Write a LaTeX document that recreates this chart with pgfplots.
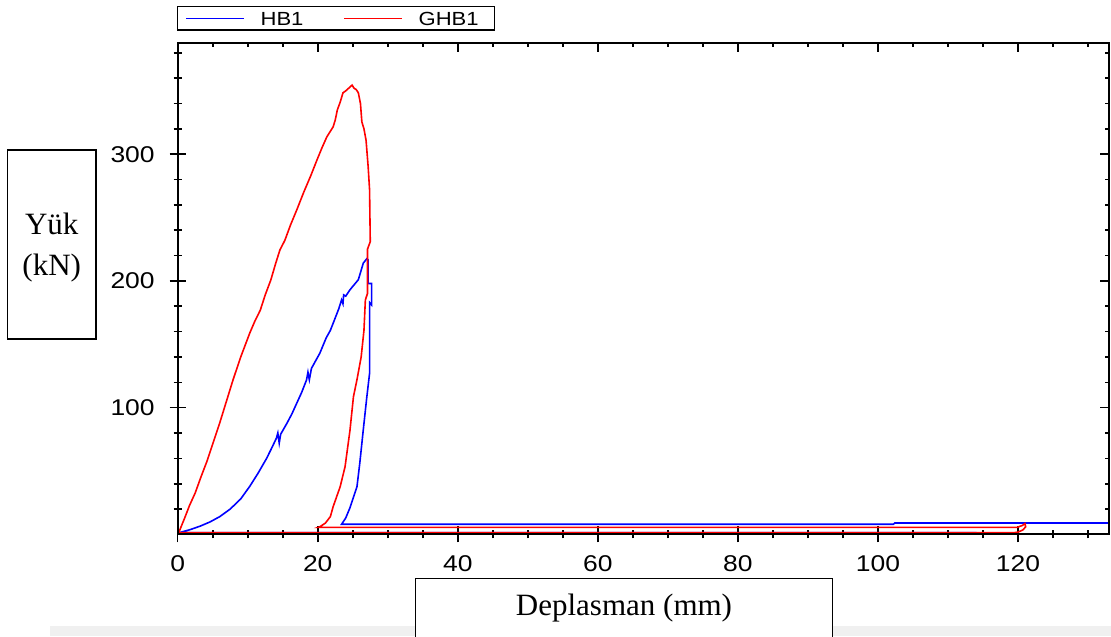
\documentclass[border=0pt]{standalone}
\usepackage{fontspec}
\setmainfont{Liberation Serif}
\newfontfamily\ticksfont[FakeStretch=1.16]{Liberation Sans}
\usepackage{pgfplots}
\pgfplotsset{compat=1.18}
\begin{document}
\begin{tikzpicture}
\fill[black!6] (-63.85pt,-50.8pt) rectangle (466.65pt,-45.8pt);
\begin{axis}[at={(0,0)}, anchor=south west, scale only axis,
  width=465.65pt, height=245.85pt,
  xmin=0, xmax=133, ymin=0, ymax=388,
  axis line style={line width=0.9pt},
  xtick={0,20,...,120}, ytick={100,200,300},
  minor xtick={5,10,...,130}, minor ytick={20,40,...,380},
  xtick pos=left, ytick pos=left, tick align=center,
  major tick length=8pt, minor tick length=4pt,
  tick style={black, line width=0.8pt},
  ticklabel style={font=\ticksfont\fontsize{11.4}{13}\selectfont},
  xticklabel style={yshift=-3pt},
  yticklabel style={xshift=-4pt},
  /pgf/number format/assume math mode=true,
  legend columns=2,
  legend style={name=leg, at={(rel axis cs:0,1)}, anchor=south west, xshift=-0.2pt, yshift=6.35pt,
    draw=none, inner xsep=3.85pt, inner ysep=2.2pt,
    font=\ticksfont\fontsize{9.5}{10}\selectfont,
    nodes={inner sep=0pt, text height=6.8pt, text depth=0pt},
    /tikz/every odd column/.append style={column sep=8pt},
    /tikz/every even column/.append style={column sep=20pt}},
]
\addplot[blue, line width=0.8pt, forget plot] coordinates {
(114.1,1.4) (0,1.4) (0,0) (0.3,1.5) (1.8,3.8) (3.2,6.5) (4.6,9.8) (6.0,14) (7.5,20) (9.0,28) (10.3,38) (11.5,48.5) (12.7,60) (13.5,69) (14.1,76) (14.3,80) (14.5,72) (14.7,79) (15.6,87.7) (16.3,95) (17.0,103.5) (17.7,112) (18.4,121.9) (18.6,128) (18.8,122) (19.1,131) (19.7,137) (20.3,143) (21.2,155) (21.8,161) (22.2,166.6) (23.0,178) (23.4,185) (23.6,182) (23.7,189) (24.0,188) (24.6,193) (25.2,197) (25.8,201) (26.5,214) (27.0,217.5) (27.2,216.6) (27.2,198) (27.7,198) (27.7,181) (27.4,183) (27.4,161) (27.4,127) (27.0,108) (26.5,82.4) (26.0,56) (25.6,37.6) (24.6,21) (24.0,13) (23.4,8) (102.2,8) (102.4,9) (140,9)
};
\addplot[red, line width=0.8pt, forget plot] coordinates {
(0,0) (0.3,3.5) (1.0,13) (1.7,23) (2.5,32.7) (3.3,45) (4.2,58) (5.1,73) (6.0,87.9) (6.9,104) (7.9,121.9) (9.0,140) (10.3,159) (11.0,168) (11.8,177) (12.5,189) (13.3,200.8) (14.0,214) (14.6,224.5) (15.3,232) (16.1,244) (17.0,256) (18.0,270) (19.0,283) (19.9,295.6) (20.6,305) (21.3,313.7) (22.2,321.6) (22.5,327) (22.8,335) (23.2,341) (23.6,348.4) (24.0,350) (24.4,352) (24.9,354.5) (25.2,352) (25.5,351) (25.8,348.4) (26.1,340) (26.3,325.5) (26.6,320) (26.9,311) (27.2,290) (27.4,272) (27.5,231) (27.1,225) (27.1,190) (26.8,185) (26.6,161) (26.2,140) (25.6,122) (25.1,108.7) (24.6,82) (23.9,53.4) (23.2,37.6) (22.2,21.9) (21.8,14) (21.1,9) (20.3,6) (20.1,5.6) (119.9,5.6) (120.6,7) (121.0,8.5) (121.1,6) (120.7,3.5) (120.0,1.8) (119.5,1.4) (0,1.4)
};
\addlegendimage{legend image code/.code={\draw[draw=blue, line width=0.6pt] (0pt,0pt) -- (29pt,0pt);}}
\addlegendentry{HB1}
\addlegendimage{legend image code/.code={\draw[draw=red, line width=0.6pt] (0pt,0pt) -- (29pt,0pt);}}
\addlegendentry{GHB1\hspace*{4pt}}
\end{axis}
\draw[line width=0.6pt] (leg.south west) rectangle (leg.north east);
\begin{axis}[at={(0,0)}, anchor=south west, scale only axis,
  width=465.65pt, height=245.85pt,
  xmin=0, xmax=133, ymin=0, ymax=388,
  axis line style={line width=0.9pt},
  xtick={0,20,...,120}, ytick={100,200,300},
  minor xtick={5,10,...,130}, minor ytick={20,40,...,380},
  xtick pos=right, ytick pos=right, tick align=inside,
  major tick length=4.5pt, minor tick length=2pt,
  tick style={black, line width=0.8pt},
  xticklabels={}, yticklabels={},
]
\end{axis}
\draw[line width=0.6pt, fill=white] (119pt,-21.95pt) rectangle (327.5pt,-60pt);
\node[font=\fontsize{15.5}{18}\selectfont] at (223.15pt,-36.8pt) {Deplasman (mm)};
\draw[line width=0.6pt] (-85.2pt,97.7pt) rectangle (-40.85pt,192.2pt);
\node[align=center, font=\fontsize{15.5}{20.6}\selectfont] at (-63pt,143.5pt) {Yük\\(kN)};
\pgfresetboundingbox
\path[use as bounding box] (-88.85pt,-50.8pt) rectangle (466.65pt,267.2pt);
\end{tikzpicture}
\end{document}
